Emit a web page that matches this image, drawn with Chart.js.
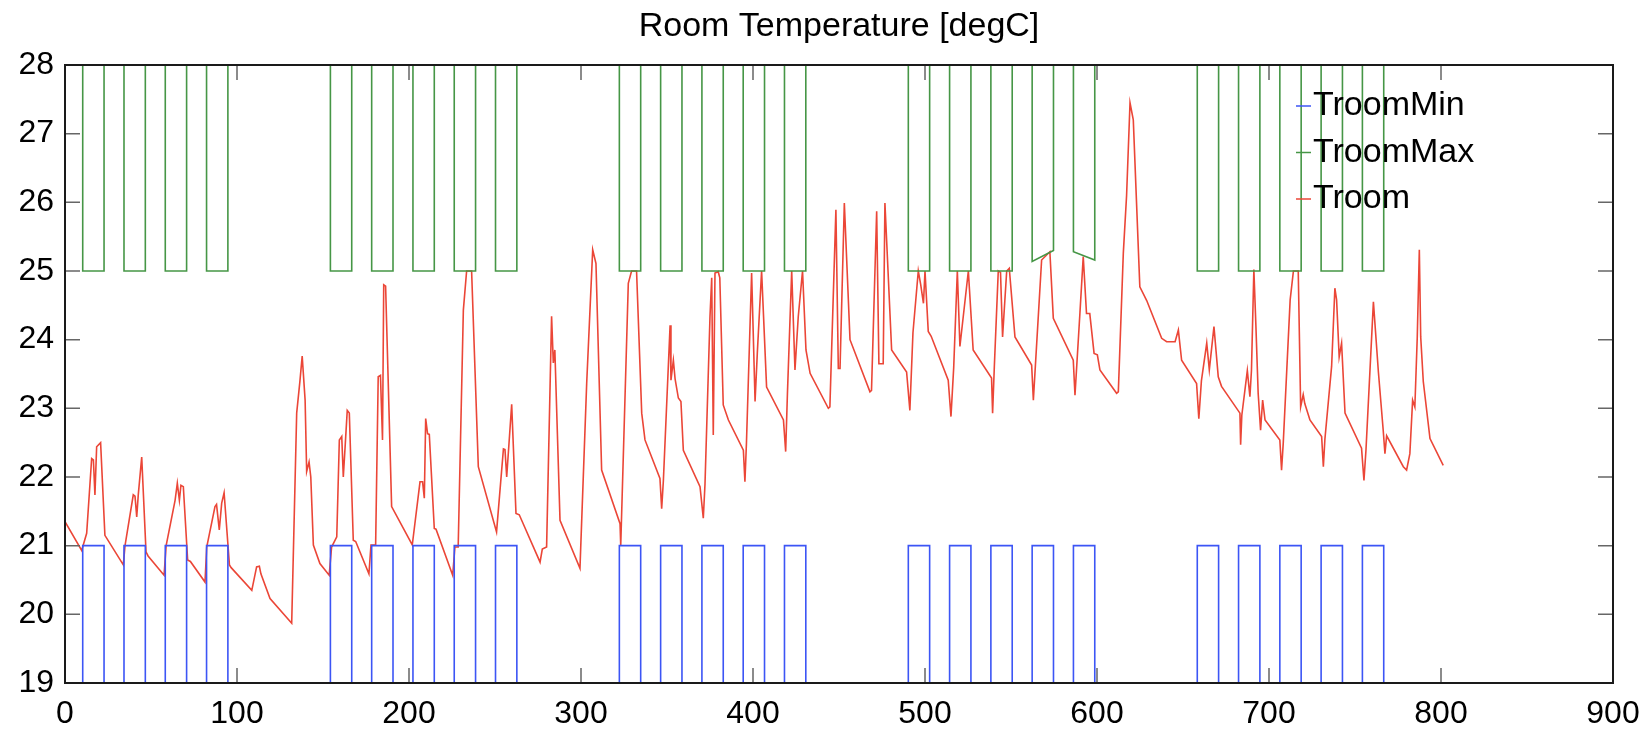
<!DOCTYPE html>
<html>
<head>
<meta charset="utf-8">
<script src="https://cdn.jsdelivr.net/npm/chart.js@4.4.0/dist/chart.umd.min.js"></script>
<style>
  html, body { margin: 0; padding: 0; background: #fff; }
  canvas { display: block; }
</style>
</head>
<body>
<canvas id="room_temp" width="1652" height="729"></canvas>
<script>
// horas de ocupacion (inicio / fin de cada periodo)
const occ_start = [10.3, 34.3, 58.3, 82.3, 154.3, 178.3, 202.3, 226.3, 250.3, 322.3, 346.3, 370.3, 394.3, 418.3,
    490.3, 514.3, 538.3, 562.3, 586.3, 658.3, 682.3, 706.3, 730.3, 754.3]
const occ_end = [22.7, 46.7, 70.7, 94.7, 166.7, 190.7, 214.7, 238.7, 262.7, 334.7, 358.7, 382.7, 406.7, 430.7,
    502.7, 526.7, 550.7, 574.7, 598.7, 670.7, 694.7, 718.7, 742.7, 766.7]

// niveles de consigna
const troom_min_low = 19
const troom_min_high = 21
const troom_max_high = 28
const troom_max_low_start = [25, 25, 25, 25, 25, 25, 25, 25, 25, 25, 25, 25, 25, 25, 25, 25, 25, 25.14, 25.28, 25, 25, 25, 25, 25]
const troom_max_low_end = [25, 25, 25, 25, 25, 25, 25, 25, 25, 25, 25, 25, 25, 25, 25, 25, 25, 25.3, 25.16, 25, 25, 25, 25, 25]
const series_end = 801

// temperatura medida
const troom_hours = [0, 9.7, 12.6, 15.5, 16.5, 17.4, 18.4, 20.7, 23.2, 33.9, 34.9, 39.7, 40.7, 41.7, 42.6, 44.6, 47.1, 48.3,
    57.6, 58.8, 64.0, 65.3, 66.5, 67.4, 68.8, 71.3, 72.9, 81.4, 82.4, 87.2, 88.1, 89.7, 91.1, 92.5, 95.6, 96.6,
    108.6, 111.4, 113.0, 113.9, 119.2, 131.8, 134.7, 136.6, 137.9, 139.6, 140.5, 141.9, 142.9, 144.4, 148.2,
    153.6, 155.0, 158.0, 159.5, 160.9, 161.8, 163.0, 164.1, 165.3, 167.6, 169.0, 176.7, 177.9, 180.6, 182.1,
    183.4, 184.6, 185.3, 186.4, 189.9, 201.9, 206.4, 207.9, 208.9, 209.7, 210.8, 211.8, 214.7, 215.7, 225.4,
    226.7, 228.6, 231.6, 233.5, 236.4, 240.3, 250.9, 254.9, 255.8, 256.8, 259.7, 262.2, 264.1, 276.2, 277.5,
    280.0, 282.9, 283.9, 284.8, 287.8, 299.4, 303.3, 306.8, 308.7, 312.0, 322.7, 323.1, 327.5, 329.4, 332.3,
    335.3, 337.2, 345.9, 346.9, 347.9, 351.8, 352.3, 353.7, 354.7, 356.6, 358.1, 359.5, 369.2, 371.1, 372.1,
    375.0, 376.0, 376.9, 377.9, 379.8, 380.7, 382.7, 385.7, 394.4, 395.3, 396.2, 399.2, 401.2, 402.5, 405.0,
    407.9, 417.7, 419.0, 420.0, 422.5, 424.4, 426.3, 428.8, 430.8, 433.2, 443.8, 444.7, 448.2, 449.6, 450.6,
    453.1, 456.4, 468.0, 468.9, 471.9, 473.2, 475.7, 476.7, 480.6, 489.3, 491.2, 493.0, 496.1, 497.5, 499.1,
    500.0, 501.9, 503.6, 513.5, 515.1, 516.7, 518.8, 520.3, 525.2, 528.0, 538.7, 539.3, 540.3, 542.6, 543.9,
    545.1, 547.5, 549.0, 552.3, 562.0, 563.0, 567.8, 572.6, 574.6, 586.2, 587.2, 590.1, 592.0, 593.9, 595.8,
    598.3, 600.2, 601.7, 611.4, 612.4, 615.3, 617.2, 619.2, 621.1, 624.9, 628.9, 637.6, 640.5, 645.4, 647.3,
    649.2, 657.9, 659.2, 660.7, 663.8, 665.3, 668.0, 670.5, 672.4, 683.1, 683.5, 684.2, 687.4, 688.9, 689.8,
    691.2, 692.4, 693.7, 695.1, 696.3, 697.7, 706.3, 707.3, 708.3, 712.3, 714.2, 717.0, 718.4, 719.9, 720.8,
    723.8, 730.6, 731.6, 732.5, 736.4, 738.3, 739.3, 740.8, 742.2, 744.2, 753.8, 755.2, 756.4, 760.7, 763.6,
    766.4, 767.4, 768.4, 778.1, 780.0, 781.9, 783.5, 784.8, 786.2, 787.4, 788.2, 789.7, 793.6, 801.3]
const troom_values = [21.35, 20.93, 21.18, 22.27, 22.25, 21.74, 22.44, 22.50, 21.15, 20.72, 21.0, 21.74, 21.72, 21.42, 21.74, 22.29, 20.91, 20.85,
    20.57, 21.0, 21.66, 21.91, 21.66, 21.88, 21.86, 20.79, 20.77, 20.47, 20.98, 21.57, 21.6, 21.23, 21.62, 21.77, 20.72, 20.68,
    20.35, 20.69, 20.70, 20.59, 20.23, 19.87, 22.93, 23.4, 23.76, 23.12, 22.08, 22.22, 22.0, 21.01, 20.74,
    20.57, 20.98, 21.13, 22.54, 22.59, 22.0, 22.5, 22.97, 22.93, 21.08, 21.06, 20.59, 21.01, 21.01, 23.46,
    23.48, 22.54, 24.80, 24.78, 21.57, 21.01, 21.93, 21.93, 21.69, 22.85, 22.63, 22.62, 21.25, 21.24, 20.57,
    20.98, 20.98, 24.43, 25.0, 25.0, 22.15, 21.2, 22.41, 22.4, 22.0, 23.06, 21.47, 21.45, 20.76, 20.95,
    20.98, 24.34, 23.66, 23.85, 21.37, 20.67, 23.36, 25.31, 25.11, 22.1, 21.32, 21.0, 24.82, 25.0, 25.0,
    22.93, 22.54, 21.98, 21.54, 21.95, 24.21, 23.41, 23.70, 23.43, 23.15, 23.1, 22.39, 21.86, 21.40, 21.9,
    24.34, 24.9, 22.61, 24.97, 24.99, 24.9, 23.05, 22.83, 22.39, 21.93, 22.5, 24.97, 23.1, 23.8, 25.0,
    23.31, 22.83, 22.37, 23.2, 25.0, 23.56, 24.33, 25.0, 23.85, 23.51, 23.0, 23.02, 25.89, 23.58, 23.58,
    25.99, 24.0, 23.24, 23.26, 25.87, 23.65, 23.65, 25.99, 23.85, 23.53, 22.97, 24.1, 25.0, 24.8, 24.53,
    25.0, 24.12, 24.05, 23.41, 22.88, 23.6, 25.0, 23.9, 25.0, 23.85, 23.44, 22.93, 23.6, 25.0, 24.98,
    24.04, 25.0, 25.04, 24.04, 23.63, 23.12, 25.16, 25.28, 24.31, 23.70, 23.19, 24.4, 25.21, 24.38, 24.38,
    23.8, 23.78, 23.56, 23.22, 23.24, 25.26, 26.1, 27.45, 27.20, 24.77, 24.57, 24.02, 23.97, 23.97, 24.14,
    23.70, 23.36, 22.85, 23.4, 23.95, 23.56, 24.19, 23.46, 23.32, 22.93, 22.47, 22.9, 23.55, 23.17, 23.55,
    25.02, 24.19, 23.22, 22.68, 23.12, 22.83, 22.54, 22.10, 22.5, 24.58, 25.0, 25.0, 23.02, 23.2, 23.07,
    22.83, 22.59, 22.15, 22.55, 23.61, 24.75, 24.58, 23.75, 23.95, 22.93, 22.42, 21.95, 22.4, 24.55, 23.53,
    22.68, 22.34, 22.6, 22.15, 22.10, 22.34, 23.12, 23.02, 24.04, 25.31, 24.04, 23.39, 22.56, 22.17]

const x_ticks = [0, 100, 200, 300, 400, 500, 600, 700, 800, 900]
const y_ticks = [19, 20, 21, 22, 23, 24, 25, 26, 27, 28]

// series escalonadas a partir de los periodos
const troom_min_points = [{x: 0, y: troom_min_low}]
const troom_max_points = [{x: 0, y: troom_max_high}]
occ_start.forEach((s, i) => {
    const e = occ_end[i]
    troom_min_points.push({x: s, y: troom_min_low}, {x: s, y: troom_min_high}, {x: e, y: troom_min_high}, {x: e, y: troom_min_low})
    troom_max_points.push({x: s, y: troom_max_high}, {x: s, y: troom_max_low_start[i]}, {x: e, y: troom_max_low_end[i]}, {x: e, y: troom_max_high})
})
troom_min_points.push({x: series_end, y: troom_min_low})
troom_max_points.push({x: series_end, y: troom_max_high})
const troom_points = troom_hours.map((h, i) => ({x: h, y: troom_values[i]}))

const FONT = '"Liberation Sans", Arial, Helvetica, sans-serif'
Chart.defaults.font.family = FONT
Chart.defaults.color = '#000'

// marco con marcas hacia dentro (estilo matlab)
const frame_plugin = {
    id: 'frame_plugin',
    afterDatasetsDraw(chart) {
        const {ctx, chartArea: a, scales} = chart
        const tl = 15
        ctx.save()
        ctx.strokeStyle = '#666'
        ctx.lineWidth = 1.5
        ctx.beginPath()
        x_ticks.forEach(v => {
            if (v === x_ticks[0] || v === x_ticks[x_ticks.length - 1]) return
            const px = scales.x.getPixelForValue(v)
            ctx.moveTo(px, a.bottom); ctx.lineTo(px, a.bottom - tl)
            ctx.moveTo(px, a.top); ctx.lineTo(px, a.top + tl)
        })
        y_ticks.forEach(v => {
            if (v === y_ticks[0] || v === y_ticks[y_ticks.length - 1]) return
            const py = scales.y.getPixelForValue(v)
            ctx.moveTo(a.left, py); ctx.lineTo(a.left + tl, py)
            ctx.moveTo(a.right, py); ctx.lineTo(a.right - tl, py)
        })
        ctx.stroke()
        ctx.strokeStyle = '#1a1a1a'
        ctx.lineWidth = 2
        ctx.strokeRect(a.left, a.top, a.right - a.left, a.bottom - a.top)

        // leyenda
        ctx.font = '34px ' + FONT
        ctx.textBaseline = 'middle'
        ctx.textAlign = 'left'
        chart.data.datasets.forEach((ds, i) => {
            const y = a.top + 41 + i * 46.5
            const x = a.right - 300
            ctx.strokeStyle = ds.borderColor
            ctx.lineWidth = 1.5
            ctx.beginPath()
            ctx.moveTo(x - 17, y)
            ctx.lineTo(x - 2, y)
            ctx.stroke()
            ctx.fillStyle = '#000'
            ctx.fillText(ds.label, x, y)
        })
        ctx.restore()
    }
}

const room_temp = document.getElementById('room_temp').getContext('2d')

new Chart(room_temp, {
    type: 'line',
    data: {
        datasets: [{
            label: 'TroomMin',
            data: troom_min_points,
            borderColor: 'rgb(60, 85, 245)',
            borderWidth: 1.6,
            pointRadius: 0,
            tension: 0
        }, {
            label: 'TroomMax',
            data: troom_max_points,
            borderColor: 'rgb(70, 150, 70)',
            borderWidth: 1.6,
            pointRadius: 0,
            tension: 0
        }, {
            label: 'Troom',
            data: troom_points,
            borderColor: 'rgb(235, 70, 55)',
            borderWidth: 1.6,
            pointRadius: 0,
            tension: 0
        }]
    },
    options: {
        responsive: false,
        animation: false,
        layout: {
            padding: {left: 0, right: 39, top: 0, bottom: 0}
        },
        scales: {
            x: {
                type: 'linear',
                min: 0,
                max: 900,
                afterBuildTicks: s => { s.ticks = x_ticks.map(v => ({value: v})) },
                afterFit: s => { s.height = 46 },
                grid: {display: false, drawTicks: false},
                border: {display: false},
                ticks: {font: {size: 32}, padding: 12, autoSkip: false, maxRotation: 0, color: '#000'}
            },
            y: {
                min: 19,
                max: 28,
                afterBuildTicks: s => { s.ticks = y_ticks.map(v => ({value: v})) },
                afterFit: s => { s.width = 65 },
                grid: {display: false, drawTicks: false},
                border: {display: false},
                ticks: {font: {size: 32}, padding: 11, color: '#000'}
            }
        },
        plugins: {
            legend: {
                display: false
            },
            tooltip: {
                enabled: false
            },
            title: {
                display: true,
                text: 'Room Temperature [degC]',
                fullSize: false,
                color: '#000',
                font: {size: 34, weight: 'normal'},
                padding: {top: 6, bottom: 18.2}
            }
        }
    },
    plugins: [frame_plugin]
});
</script>
</body>
</html>
